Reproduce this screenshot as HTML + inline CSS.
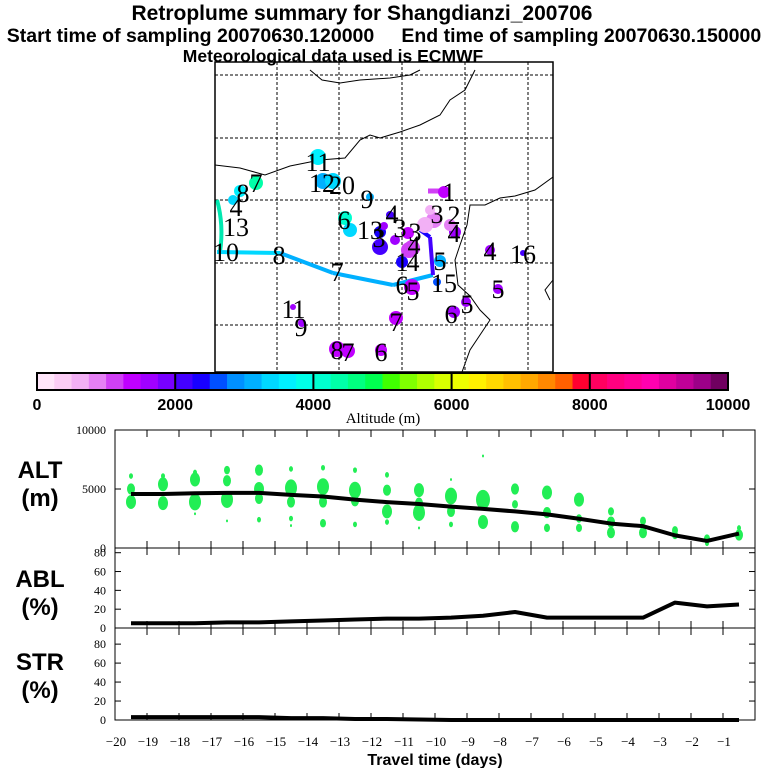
<!DOCTYPE html>
<html><head><meta charset="utf-8"><style>
html,body{margin:0;padding:0;background:#fff;}
svg{display:block;}
text{font-family:"Liberation Sans",sans-serif;}
.serif{font-family:"Liberation Serif",serif;}
</style></head><body>
<svg id="s" width="768" height="768" viewBox="0 0 768 768" xmlns="http://www.w3.org/2000/svg">
<g id="map"></g>
<g id="cbar"></g>
<g id="panels"></g>
<g font-weight="bold" text-anchor="middle" fill="#000">
<text x="362" y="20" font-size="21">Retroplume summary for Shangdianzi_200706</text>
<text x="384" y="42" font-size="19.5" xml:space="preserve">Start time of sampling 20070630.120000     End time of sampling 20070630.150000</text>
<text x="333" y="62" font-size="17.5">Meteorological data used is ECMWF</text>
</g>
</svg>
<script>
// ---- data ----
const days = [-19.5,-18.5,-17.5,-16.5,-15.5,-14.5,-13.5,-12.5,-11.5,-10.5,-9.5,-8.5,-7.5,-6.5,-5.5,-4.5,-3.5,-2.5,-1.5,-0.5];
const altMean = [4580,4580,4640,4670,4670,4500,4360,4100,3890,3730,3510,3320,3100,2850,2480,2070,1850,1070,600,1220];
const ablPct = [5,5,5,6,6,7,8,9,10,10,11,13,17,11,11,11,11,27,23,25];
const strPct = [3,3,3,3,3,2,2,1,1,0.5,0,0,0,0,0,0,0,0,0,0];
const dotDays = [-19.5,-19.5,-19.5,-18.5,-18.5,-18.5,-17.5,-17.5,-17.5,-17.5,-16.5,-16.5,-16.5,-16.5,-15.5,-15.5,-15.5,-15.5,-14.5,-14.5,-14.5,-14.5,-14.5,-13.5,-13.5,-13.5,-13.5,-12.5,-12.5,-12.5,-12.5,-11.5,-11.5,-11.5,-11.5,-10.5,-10.5,-10.5,-10.5,-9.5,-9.5,-9.5,-9.5,-8.5,-8.5,-8.5,-7.5,-7.5,-7.5,-6.5,-6.5,-6.5,-5.5,-5.5,-5.5,-4.5,-4.5,-4.5,-3.5,-3.5,-2.5,-2.5,-1.5,-1.5,-0.5,-0.5];
const dotVals = [6100,5000,3900,6100,5400,3800,6400,5800,3900,2900,6600,5700,4100,2300,6600,5000,4200,2400,6700,5100,3900,2500,1900,6800,5200,3900,2100,6600,4900,4000,2000,6200,4900,3100,2200,4900,3800,3000,1700,5800,4400,3100,2000,7800,4100,2200,5000,3700,1800,4700,3000,1700,4100,2500,1700,3100,2200,1300,2300,1300,1500,1100,800,400,1700,1100];
const dotSizes = [2,4,5,2,5,5,2,5,6,1,3,4,6,1,4,5,4,2,2,6,4,2,1,2,6,4,3,2,6,4,2,2,4,5,2,5,4,6,1,1,6,4,2,1,7,5,4,3,4,5,4,3,5,3,3,3,4,4,3,4,3,3,3,2,2,4];
const xTicks = [-20,-19,-18,-17,-16,-15,-14,-13,-12,-11,-10,-9,-8,-7,-6,-5,-4,-3,-2,-1];
const altTicks = [0,5000,10000];
const pctTicks = [0,20,40,60,80];
const cbTicks = [0,2000,4000,6000,8000,10000];
const cbColors = ["#ffe6fa","#fbcdf5","#f2b0f5","#e580f5","#d040f5","#c000ff","#a000ff","#7800ff",
"#4400ff","#1800ff","#0050ff","#0090ff","#00b0ff","#00d8ff","#00f0ff","#00ffe8",
"#00ffd0","#00ffa8","#00ff80","#00ff50","#40ff00","#80ff00","#b0ff00","#d8ff00",
"#eeff00","#fff000","#ffd800","#ffc000","#ffa800","#ff8800","#ff6000","#ff0030",
"#ff0060","#ff0080","#ff0098","#ff00b0","#e000a0","#c00098","#9c0088","#700060"];
const mapLabels = ["11","12","20","9","8","7","4","13","10","8","7","6","13","3","4","3","3","4","1","4","5","6","5","15","4","4","16","5","1","3","2","1","1","9","8","7","6","6","5","7"];
const mapLabelLon = [318,322,342,367,243,256,236,236,226,279,337,344,370,379,392,400,415,414,402,413,440,402,413,444,454,490,523,498,449,437,454,288,299,301,337,348,381,451,467,396];
const mapLabelLat = [162,183,185,199,193,183,207,227,252,255,272,220,230,238,214,228,232,245,262,262,261,285,291,283,233,251,254,289,192,214,215,309,309,327,350,352,352,314,304,322];
const mapDotX = [318,323,333,370,240,256,233,345,350,380,380,390,409,408,402,440,412,437,455,490,523,498,444,434,425,395,337,348,381,454,466,396,293,302,384,412,450,430];
const mapDotY = [157,181,181,197,191,183,200,218,230,232,247,215,250,233,262,261,287,282,232,250,253,289,192,220,225,240,349,351,350,312,302,318,307,323,226,248,225,210];
const mapDotAlt = [3700,3200,3400,3200,3600,4300,3300,4000,3300,2300,2200,2100,1200,1300,2300,3100,1400,2700,1500,1600,2200,1600,1400,900,700,1600,1400,1400,1400,1600,1500,1400,1500,1600,1500,1100,800,600];
const mapDotR = [8,8,8,4,6,7,5,7,7,6,8,4,8,6,6,6,8,4,6,5,3,5,6,8,8,5,8,7,6,6,5,7,3,4,4,8,6,5];
const trajLon = [217,280,333,393,433,430,420];
const trajLat = [252,253,273,285,275,237,230];
const trajAlt = [3300,3200,3100,3000,2200,2300,2300];

const NS="http://www.w3.org/2000/svg";
function mk(tag,attrs,parent){const e=document.createElementNS(NS,tag);for(const k in attrs)e.setAttribute(k,attrs[k]);parent.appendChild(e);return e;}
function colorFor(a){let i=Math.floor(a/250);if(i<0)i=0;if(i>39)i=39;return cbColors[i];}

// ---- map ----
const map=document.getElementById('map');
const MX0=215,MX1=553,MY0=62,MY1=372;
let e;
e=mk('defs',{},map);
const cp=mk('clipPath',{id:'mclip'},e);mk('rect',{x:MX0,y:MY0,width:MX1-MX0,height:MY1-MY0},cp);
const mg=mk('g',{'clip-path':'url(#mclip)'},map);
[277,339,402,465,528].forEach(x=>{e=mk('line',{x1:x,y1:MY0,x2:x,y2:MY1,stroke:'#000','stroke-width':1,'stroke-dasharray':'3,2'},mg);
});
[75,138,200,263,325].forEach(y=>{e=mk('line',{x1:MX0,y1:y,x2:MX1,y2:y,stroke:'#000','stroke-width':1,'stroke-dasharray':'3,2'},mg);
});
const coast=["M310,70 L322,80 L340,83 L360,80 L390,78 L410,75 L420,70","M215,165 L240,168 L265,175 L290,166 L320,160 L345,158 L360,140 L370,135 L380,138 L400,132 L420,125 L440,115 L450,100 L465,90 L475,70",
"M553,177 L535,190 L515,196 L500,198 L485,205 L470,205 L467,225 L460,245 L455,260 L458,285 L470,296 L480,310 L490,320 L470,350 L462,372",
"M553,280 L545,290 L550,300"];
coast.forEach(d=>{e=mk('path',{d:d,fill:'none',stroke:'#000','stroke-width':1},mg);
});
e=mk('path',{d:'M217,200 Q224,225 220,252',fill:'none',stroke:'#00e8b0','stroke-width':4},mg);

for(let i=0;i<trajLon.length-1;i++){
 e=mk('line',{x1:trajLon[i],y1:trajLat[i],x2:trajLon[i+1],y2:trajLat[i+1],stroke:colorFor(trajAlt[i]),'stroke-width':4},mg);
 
}
e=mk('line',{x1:428,y1:191,x2:450,y2:191,stroke:'#d040f5','stroke-width':5},mg);

for(let i=0;i<mapDotX.length;i++){
 e=mk('circle',{cx:mapDotX[i],cy:mapDotY[i],r:mapDotR[i],fill:colorFor(mapDotAlt[i])},mg);
 
}
for(let i=0;i<mapLabels.length;i++){
 e=mk('text',{x:mapLabelLon[i],y:mapLabelLat[i]+9,'font-size':26,'text-anchor':'middle',class:'serif',fill:'#000'},mg);
 e.textContent=mapLabels[i];
 
}
e=mk('rect',{x:MX0,y:MY0,width:MX1-MX0,height:MY1-MY0,fill:'none',stroke:'#000','stroke-width':1.5},map);


// ---- colorbar ----
const cb=document.getElementById('cbar');
const CX0=37,CX1=728,CY0=373,CY1=390;
const cbx=v=>CX0+(v/10000)*(CX1-CX0);
cbColors.forEach((c,i)=>{e=mk('rect',{x:cbx(i*250),y:CY0,width:cbx(250)-CX0+0.5,height:CY1-CY0,fill:c},cb);
 });
e=mk('rect',{x:CX0,y:CY0,width:CX1-CX0,height:CY1-CY0,fill:'none',stroke:'#000','stroke-width':2},cb);
cbTicks.forEach(v=>{mk('line',{x1:cbx(v),y1:CY0,x2:cbx(v),y2:CY1,stroke:'#000','stroke-width':2},cb);
 e=mk('text',{x:cbx(v),y:410,'font-size':16,'font-weight':'bold','text-anchor':'middle'},cb);e.textContent=v;
 });
e=mk('text',{x:383,y:423,'font-size':15,'text-anchor':'middle',class:'serif'},cb);e.textContent='Altitude (m)';


// ---- panels ----
const P=document.getElementById('panels');
const PX0=115,PX1=755;
const xs=d=>PX0+(d+20)/20*(PX1-PX0);
function panel(name,y0,y1,vmax,ticks,label,sub,labelY){
 const ys=v=>y1-(v/vmax)*(y1-y0);
 const g=mk('g',{},P);
 mk('rect',{x:PX0,y:y0,width:PX1-PX0,height:y1-y0,fill:'none',stroke:'#000','stroke-width':1},g);
 for(let d=-19;d<=-1;d++){mk('line',{x1:xs(d),y1:y0,x2:xs(d),y2:y0+7,stroke:'#000'},g);mk('line',{x1:xs(d),y1:y1,x2:xs(d),y2:y1-7,stroke:'#000'},g);}
 ticks.forEach(v=>{mk('line',{x1:PX0,y1:ys(v),x2:PX0+6,y2:ys(v),stroke:'#000'},g);mk('line',{x1:PX1,y1:ys(v),x2:PX1-6,y2:ys(v),stroke:'#000'},g);
  e=mk('text',{x:PX0-9,y:ys(v)+4,'font-size':12,'text-anchor':'end',class:'serif'},g);e.textContent=v;
  });
 e=mk('text',{x:40,y:labelY,'font-size':24,'font-weight':'bold','text-anchor':'middle'},g);e.textContent=label;
 
 e=mk('text',{x:40,y:labelY+28,'font-size':24,'font-weight':'bold','text-anchor':'middle'},g);e.textContent=sub;
 
 return {g,ys};
}
const alt=panel('alt',430,548,10000,altTicks,'ALT','(m)',478);
for(let i=0;i<dotDays.length;i++){
 e=mk('ellipse',{cx:xs(dotDays[i]),cy:alt.ys(dotVals[i]),rx:dotSizes[i]*1.0,ry:dotSizes[i]*1.4,fill:'#22ee55'},alt.g);
 
}
function line(pn,vals,nm){
 const pts=days.map((d,i)=>xs(d)+','+pn.ys(vals[i])).join(' ');
 e=mk('polyline',{points:pts,fill:'none',stroke:'#000','stroke-width':4,'stroke-linejoin':'round'},pn.g);
 
}
line(alt,altMean,'mean-altitude-line');
const abl=panel('abl',548,628,85,pctTicks,'ABL','(%)',587);
line(abl,ablPct,'abl-fraction-line');
const str=panel('str',628,720,97,pctTicks,'STR','(%)',670);
line(str,strPct,'stratosphere-fraction-line');
xTicks.forEach(d=>{e=mk('text',{x:xs(d)+1,y:746,'font-size':13,'text-anchor':'middle',class:'serif'},P);e.textContent='\u2212'+(-d);
 });
e=mk('text',{x:435,y:765,'font-size':16,'font-weight':'bold','text-anchor':'middle'},P);e.textContent='Travel time (days)';

</script>
</body></html>
